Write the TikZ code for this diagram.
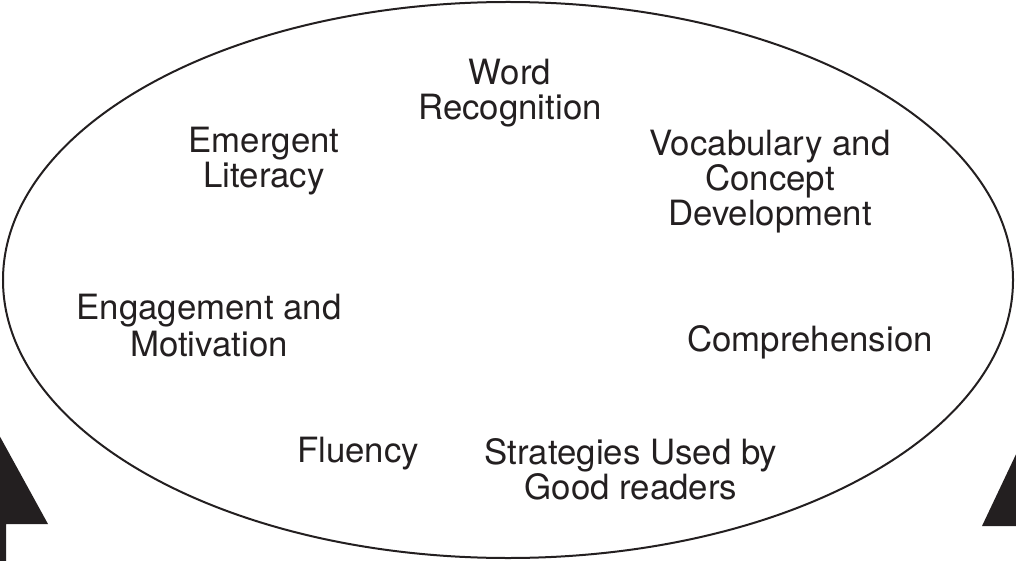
\documentclass[tikz,border=0pt]{standalone}
\usepackage{fontspec}
\setmainfont{TeX Gyre Heros}
\definecolor{ink}{HTML}{231F20}
\begin{document}
\begin{tikzpicture}[x=1pt,y=-1pt,
  lbl/.style={align=center,inner sep=0pt,text=ink,font=\fontsize{34.8}{35}\selectfont},
  ring/.style={draw=ink,line width=2pt},
  arrowhead/.style={fill=ink,draw=none}]
\useasboundingbox (0,0) rectangle (1016,561);
\begin{scope}
\clip (0,0) rectangle (1016,561);
\draw[ring] (508,280) ellipse [x radius=505, y radius=278];
\fill[arrowhead] (-2,433) -- (48,524) -- (6,524) -- (6,563) -- (-2,563) -- cycle;
\fill[arrowhead] (982,526) -- (1018,450) -- (1018,526) -- cycle;
\end{scope}
\node[lbl] (word) at (510,93.6) {Word\\Recognition};
\node[lbl] (emergent) at (264,160.9) {Emergent\\Literacy};
\node[lbl] (vocab) at (770,181.2) {Vocabulary and\\Concept\\Development};
\node[lbl] (engage) at (209,325.6) {Engagement and\\[2pt]Motivation};
\node[lbl] (compre) at (810,342.1) {Comprehension};
\node[lbl] (fluency) at (358,453.2) {Fluency};
\node[lbl] (strat) at (631,469.1) {Strategies Used by\\Good readers};
\end{tikzpicture}
\end{document}
